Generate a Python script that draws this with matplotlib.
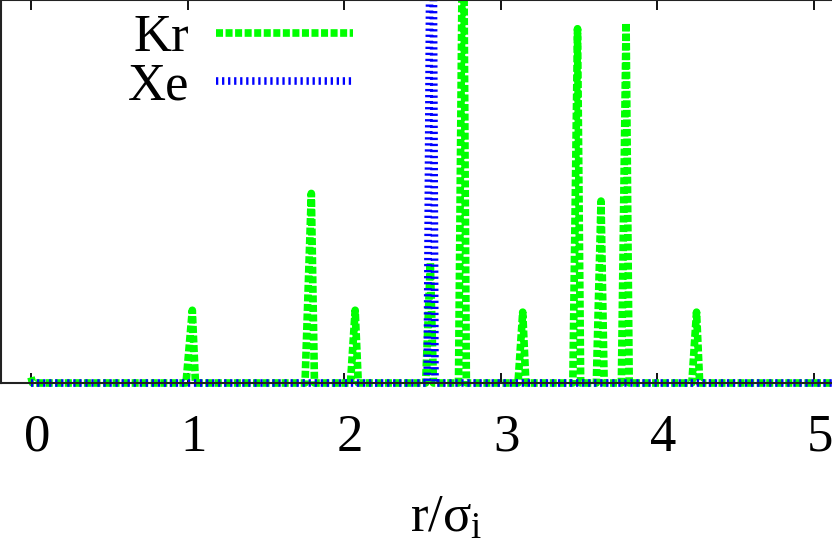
import numpy as np
import matplotlib
matplotlib.use("Agg")
import matplotlib.pyplot as plt
import matplotlib.transforms as mtransforms

plt.rcParams['font.family'] = ['Liberation Serif', 'DejaVu Serif']
plt.rcParams['mathtext.fontset'] = 'custom'
plt.rcParams['mathtext.rm'] = 'Liberation Serif'
plt.rcParams['mathtext.it'] = 'Liberation Serif'

# Kr pair distribution (sparse peaks on a zero baseline)
kr_r = [0.00, 0.01, 0.03,
        0.99, 1.03, 1.05,
        1.75, 1.79, 1.81,
        2.04, 2.07, 2.09,
        2.52, 2.55, 2.57,
        2.73, 2.76, 2.78,
        3.11, 3.14, 3.16,
        3.46, 3.49, 3.51,
        3.61, 3.64, 3.66,
        3.77, 3.80, 3.82,
        4.22, 4.25, 4.27,
        5.12]
kr_g = [0.15, 0.0, 0.0,
        0.0, 1.9, 0.0,
        0.0, 4.95, 0.0,
        0.0, 1.9, 0.0,
        0.0, 3.15, 0.0,
        0.0, 14.0, 0.0,
        0.0, 1.85, 0.0,
        0.0, 9.25, 0.0,
        0.0, 4.75, 0.0,
        0.0, 9.4, 0.0,
        0.0, 1.85, 0.0,
        0.0]

# Xe pair distribution
xe_r = [0.00, 2.53, 2.56, 2.58, 5.12]
xe_g = [0.0, 0.0, 20.0, 0.0, 0.0]

xticks = [0, 1, 2, 3, 4, 5]

fig = plt.figure(figsize=(8.32, 5.40), dpi=100)
# axes reach a few pixels below the bottom spine so the baseline is not cut
ax = fig.add_axes([0.0015, (540 - 388) / 540, 0.9985, 388 / 540])

ax.plot(kr_r, kr_g, color='#00ff00', lw=5.5, dashes=(0.92, 0.33), label='Kr')
ax.plot(xe_r, xe_g, color='#0000ff', lw=5.5, dashes=(0.3, 0.49), label='Xe')

ax.set_xlim(-0.19, 5.115)
ax.set_ylim(-0.13, 10)
ax.spines['bottom'].set_position(('data', 0))
ax.spines['left'].set_bounds(0, 10)
ax.set_xticks(xticks)
ax.set_xticklabels([str(t) for t in xticks])
ax.set_yticks([])
ax.tick_params(axis='x', direction='in', length=7, width=1.3, top=True,
               labelsize=38, pad=22)
shift = mtransforms.ScaledTranslation(6 / 100, 0, fig.dpi_scale_trans)
for lab in ax.get_xticklabels():
    lab.set_transform(lab.get_transform() + shift)
for s in ['left', 'bottom', 'top']:
    ax.spines[s].set_linewidth(1.5)
    ax.spines[s].set_color('#222222')
ax.spines['right'].set_visible(False)

ax.set_xlabel(r'r/$\sigma_\mathrm{i}$', fontsize=38)
ax.xaxis.set_label_coords(0.535, -0.275)

ax.legend(loc='upper left', bbox_to_anchor=(0.127, 1.018), frameon=False,
          markerfirst=False, fontsize=38, handlelength=2.6, handletextpad=0.5,
          labelspacing=0.0, borderaxespad=0.0)

fig.savefig('out.png', dpi=100)
